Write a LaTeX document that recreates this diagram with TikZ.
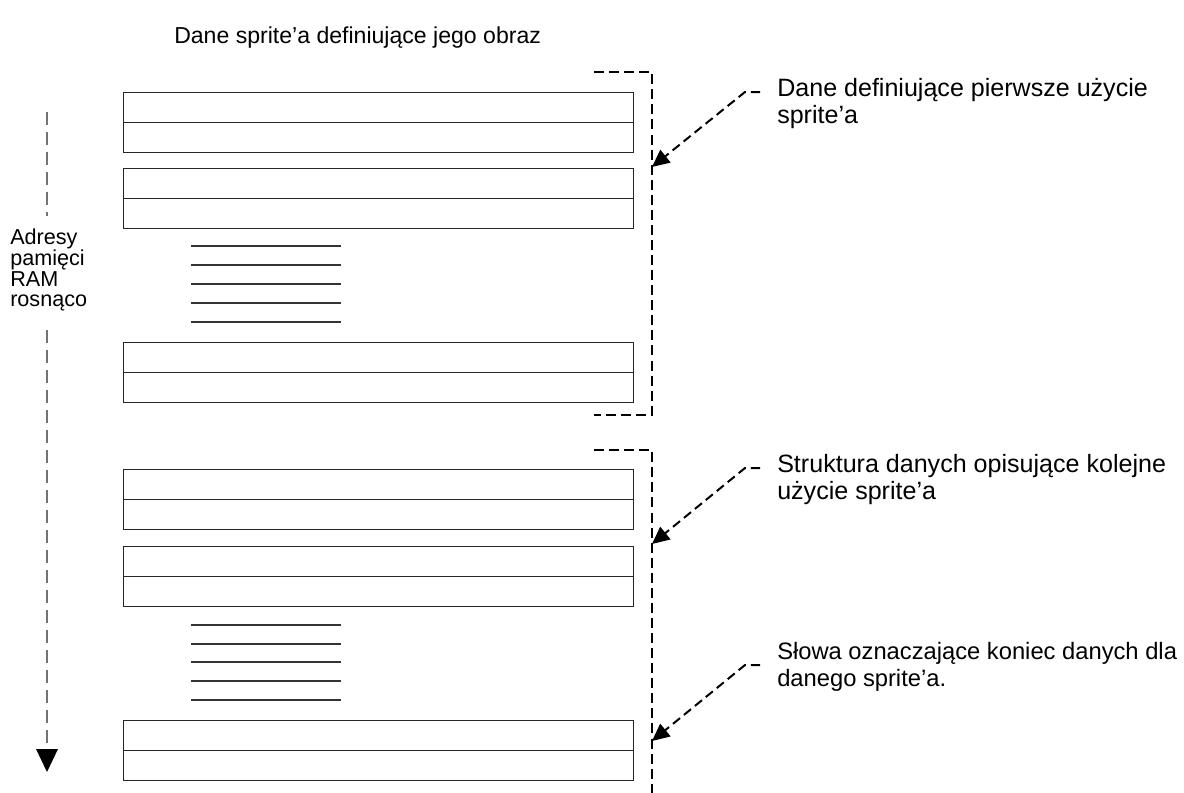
\documentclass[tikz,border=0pt]{standalone}
\usepackage{fontspec}
\setmainfont{Liberation Sans}
\usetikzlibrary{arrows.meta}
\begin{document}
\begin{tikzpicture}[x=0.75pt,y=-0.75pt,
  cell/.style={draw=black!85, line width=0.75pt, minimum width=382.5pt, minimum height=22.5pt, inner sep=0pt, anchor=north west},
  rule/.style={draw=black!80, line width=0.9pt},
  bracket/.style={draw=black, line width=1.9pt, dash pattern=on 7.5pt off 3.8pt},
  callout/.style={draw=black, line width=1.5pt, dash pattern=on 6.8pt off 3.8pt, -{Triangle[length=13pt,width=12pt]}},
  axis/.style={draw=black!55, line width=0.8pt, dash pattern=on 9.75pt off 5.25pt},
  lbl/.style={font=\fontsize{18.8}{20.25}\selectfont, align=left, anchor=base west, inner sep=0pt},
  lbls/.style={font=\fontsize{17.8}{20.25}\selectfont, align=left, anchor=base west, inner sep=0pt},
  ttl/.style={font=\fontsize{17.3}{20.2}\selectfont, anchor=base west, inner sep=0pt},
  small/.style={font=\fontsize{16.2}{15.5}\selectfont, align=left, anchor=north west, inner sep=0pt}]
\useasboundingbox (0,0) rectangle (1184,792);
% title
\node[ttl] (title) at (174,44) {Dane sprite’a definiujące jego obraz};
% boxes group 1
\node[cell] (r1) at (123,92) {};
\node[cell] (r2) at (123,122) {};
\node[cell] (r3) at (123,168) {};
\node[cell] (r4) at (123,198) {};
\foreach \y in {246,265,284,303,322} \draw[rule] (191,\y) -- (341,\y);
\node[cell] (r5) at (123,342) {};
\node[cell] (r6) at (123,372) {};
% boxes group 2
\node[cell] (r7) at (123,469) {};
\node[cell] (r8) at (123,499) {};
\node[cell] (r9) at (123,546) {};
\node[cell] (r10) at (123,576) {};
\foreach \y in {625,644,662,681,700} \draw[rule] (191,\y) -- (341,\y);
\node[cell] (r11) at (123,720) {};
\node[cell] (r12) at (123,750) {};
% brackets
\draw[bracket] (594,72) -- (652,72) -- (652,415) -- (594,415);
\draw[bracket] (594,450) -- (652,450) -- (652,800);
% labels
\node[lbl] (l1) at (777,123) {Dane definiujące pierwsze użycie\\sprite’a};
\node[lbl] (l2) at (777,499) {Struktura danych opisujące kolejne\\użycie sprite’a};
\node[lbls] (l3) at (777,686) {Słowa oznaczające koniec danych dla\\danego sprite’a.};
\coordinate (s1) at (760,92);
\coordinate (s2) at (760,468);
\coordinate (s3) at (760,665);
\coordinate (t1) at (652,167);
\coordinate (t2) at (652,544);
\coordinate (t3) at (652,741);
\draw[callout] (s1) -- (745,92) -- (t1);
\draw[callout] (s2) -- (745,468) -- (t2);
\draw[callout] (s3) -- (745,665) -- (t3);
% left axis
\node[small] (ax) at (10,229) {Adresy\\pamięci\\RAM\\rosnąco};
\coordinate (a0) at (47,112);
\coordinate (a1) at (47,216);
\coordinate (a2) at (47,330);
\coordinate (a3) at (47,750);
\coordinate (a4) at (47,772);
\draw[axis] (a0) -- (a1);
\draw[axis] (a2) -- (a3);
\fill[black] (36,749) -- (58,749) -- (a4) -- cycle;
\end{tikzpicture}
\end{document}
